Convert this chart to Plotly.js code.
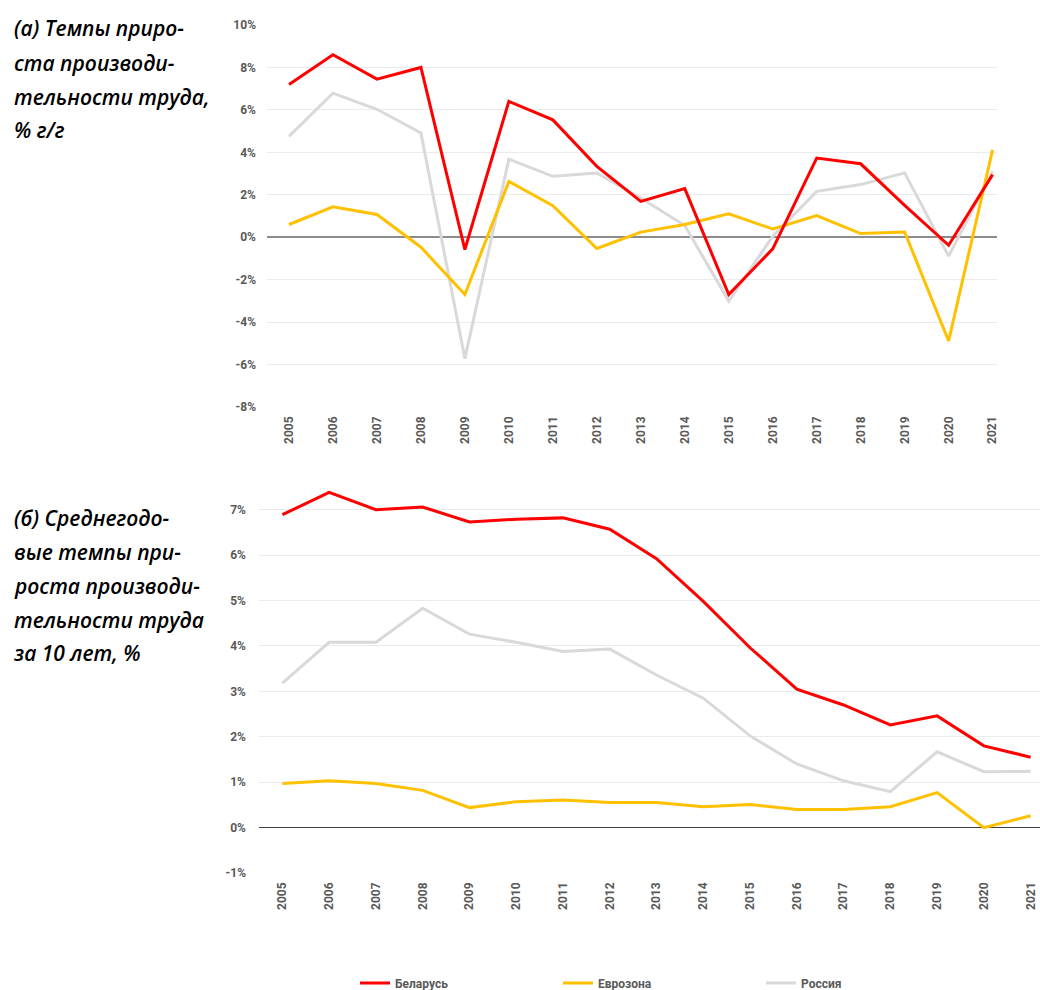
<!DOCTYPE html>
<html>
<head>
<meta charset="utf-8">
<script src="https://cdn.plot.ly/plotly-3.0.1.min.js"></script>
<style>
html,body{margin:0;padding:0;background:#fff;}
#chart{width:1040px;height:990px;}
</style>
</head>
<body>
<div id="chart"></div>
<script>
const years = ['2005','2006','2007','2008','2009','2010','2011','2012','2013','2014','2015','2016','2017','2018','2019','2020','2021'];

// (a) annual growth, % y/y
const belarusA = [7.2, 8.6, 7.45, 8.0, -0.58, 6.4, 5.53, 3.34, 1.69, 2.29, -2.7, -0.55, 3.73, 3.46, 1.5, -0.38, 2.95];
const euroA    = [0.6, 1.43, 1.07, -0.47, -2.7, 2.63, 1.49, -0.53, 0.24, 0.6, 1.1, 0.39, 1.02, 0.17, 0.25, -4.89, 4.12];
const russiaA  = [4.75, 6.79, 6.03, 4.91, -5.72, 3.68, 2.87, 3.03, 1.85, 0.55, -3.01, 0.05, 2.16, 2.48, 3.03, -0.89, 3.1];

// (b) 10-year average annual growth, %
const belarusB = [6.89, 7.38, 7.0, 7.06, 6.73, 6.79, 6.82, 6.57, 5.92, 4.98, 3.96, 3.05, 2.7, 2.26, 2.46, 1.8, 1.55];
const euroB    = [0.97, 1.03, 0.97, 0.82, 0.44, 0.57, 0.61, 0.55, 0.55, 0.46, 0.51, 0.4, 0.4, 0.46, 0.77, 0.0, 0.26];
const russiaB  = [3.18, 4.08, 4.08, 4.83, 4.26, 4.08, 3.88, 3.93, 3.36, 2.85, 2.02, 1.4, 1.03, 0.79, 1.67, 1.23, 1.24];

const seriesNames = ['Беларусь', 'Еврозона', 'Россия'];
const colors = ['#ff0000', '#ffc000', '#d9d9d9'];

const ticksA = [-8,-6,-4,-2,0,2,4,6,8,10];
const ticksB = [-1,0,1,2,3,4,5,6,7];

const titleA = ['(а) Темпы приро-', 'ста производи-', 'тельности труда,', '% г/г'];
const titleB = ['(б) Среднегодо-', 'вые темпы при-', 'роста производи-', 'тельности труда', 'за 10 лет, %'];

const W = 1040, H = 990;
const tickFont = {family: 'Roboto, "DejaVu Sans", sans-serif', size: 12, color: '#595959', weight: 700};

const dataA = [belarusA, euroA, russiaA];
const dataB = [belarusB, euroB, russiaB];
const traces = [];
// draw Россия first, then Еврозона, then Беларусь on top (as in reference)
[['x','y',dataA,true],['x2','y2',dataB,false]].forEach(([xa, ya, data, leg]) => {
  [2, 1, 0].forEach(i => {
    traces.push({x: years, y: data[i], type: 'scatter', mode: 'lines', name: seriesNames[i],
      line: {color: colors[i], width: 3}, xaxis: xa, yaxis: ya, showlegend: leg,
      legendrank: i + 1, hoverinfo: 'skip'});
  });
});

const annotations = [];
const titleFont = {family: '"Open Sans", "Noto Sans", sans-serif', size: 21, color: '#000', weight: 600, style: 'italic'};
const yA = [28, 63, 97, 130];
titleA.forEach((t, k) => annotations.push({text: t, xref: 'paper', yref: 'paper', x: 12/W, y: 1 - yA[k]/H,
  xanchor: 'left', yanchor: 'middle', showarrow: false, font: titleFont}));
const yB = [518, 552, 586, 620, 653];
titleB.forEach((t, k) => annotations.push({text: t, xref: 'paper', yref: 'paper', x: 12/W, y: 1 - yB[k]/H,
  xanchor: 'left', yanchor: 'middle', showarrow: false, font: titleFont}));

const layout = {
  width: W, height: H, autosize: false,
  margin: {l: 0, r: 0, t: 0, b: 0, autoexpand: false},
  paper_bgcolor: '#fff', plot_bgcolor: '#fff',
  showlegend: true,
  legend: {orientation: 'h', x: 355/W, xanchor: 'left', y: 1 - 983/H, yanchor: 'middle',
    font: tickFont, entrywidth: 158, entrywidthmode: 'pixels', itemwidth: 30, bgcolor: 'rgba(0,0,0,0)',
    traceorder: 'normal'},
  xaxis: {domain: [267/W, 997/W], type: 'category', range: [-0.5, 16.1], anchor: 'y',
    showgrid: false, zeroline: false, showline: false, ticks: '', tickangle: -90,
    tickfont: tickFont, ticklabelstandoff: 6, fixedrange: true, automargin: false},
  yaxis: {domain: [1 - 407/H, 1 - 25/H], range: [-8, 10], tickvals: ticksA,
    ticktext: ticksA.map(v => v + '%'), anchor: 'x',
    showgrid: true, gridcolor: '#ebebeb', gridwidth: 1,
    zeroline: true, zerolinecolor: '#8c8c8c', zerolinewidth: 1.5,
    showline: false, ticks: '', tickfont: tickFont, ticklabelstandoff: 10, fixedrange: true, automargin: false},
  xaxis2: {domain: [259/W, 1], type: 'category', range: [-0.5, 16.2], anchor: 'y2',
    showgrid: false, zeroline: false, showline: false, ticks: '', tickangle: -90,
    tickfont: tickFont, ticklabelstandoff: 6, fixedrange: true, automargin: false},
  yaxis2: {domain: [1 - 873/H, 1 - 487/H], range: [-1, 7.5], tickvals: ticksB,
    ticktext: ticksB.map(v => v + '%'), anchor: 'x2',
    showgrid: true, gridcolor: '#ebebeb', gridwidth: 1,
    zeroline: true, zerolinecolor: '#404040', zerolinewidth: 1,
    showline: false, ticks: '', tickfont: tickFont, ticklabelstandoff: 12, fixedrange: true, automargin: false},
  annotations: annotations
};

Plotly.newPlot('chart', traces, layout, {staticPlot: true, displayModeBar: false});
</script>
</body>
</html>
